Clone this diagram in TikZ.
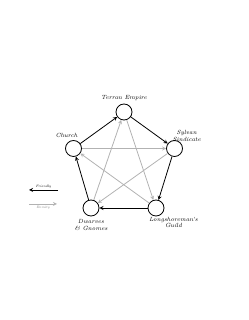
\documentclass[tikz,border=0pt]{standalone}
\usepackage{tikz}
\usetikzlibrary{arrows,positioning}

\tikzset{
  faction/.style={draw, circle, thick, minimum size=16pt, inner sep=0pt},
  tag/.style={font=\fontsize{6}{6.5}\selectfont\itshape, align=center, inner sep=1pt},
  friendly/.style={-stealth, thick, black},
  enmity/.style={-stealth, thick, gray!60},
}

\begin{document}
\begin{tikzpicture}[x=1pt, y=1pt]
  \useasboundingbox (0,0) rectangle (248,320);
  % factions
  \node[faction] (terran) at (124, 208) {};
  \node[faction] (sylvan) at (174.5, 171.5) {};
  \node[faction] (church) at (73.5, 171.5) {};
  \node[faction] (guild) at (156, 112) {};
  \node[faction] (dwarves) at (91, 112) {};

  \node[tag, above=2pt of terran] {Terran Empire};
  \node[tag, above right=0pt and -9pt of sylvan] {Sylvan\\Sindicate};
  \node[tag, above=1pt of church, xshift=-7pt] {Church};
  \node[tag, below=2pt of dwarves] {Dwarves\\\& Gnomes};
  \node[tag, below right=2pt and -14pt of guild] {Longshoreman's\\Guild};

  % friendly ring
  \draw[friendly] (church) -- (terran);
  \draw[friendly] (terran) -- (sylvan);
  \draw[friendly] (sylvan) -- (guild);
  \draw[friendly] (guild) -- (dwarves);
  \draw[friendly] (dwarves) -- (church);

  % enmity star
  \draw[enmity] (terran) -- (guild);
  \draw[enmity] (guild) -- (church);
  \draw[enmity] (church) -- (sylvan);
  \draw[enmity] (sylvan) -- (dwarves);
  \draw[enmity] (dwarves) -- (terran);

  % legend
  \coordinate (fr1) at (58, 130);
  \coordinate (fr0) at (29, 130);
  \coordinate (en0) at (29, 116);
  \coordinate (en1) at (57, 116);
  \draw[friendly] (fr1) -- node[above, font=\fontsize{3.5}{4}\selectfont\itshape, inner sep=1.5pt] {Friendly} (fr0);
  \draw[enmity] (en0) -- node[below, font=\fontsize{3.5}{4}\selectfont\itshape, text=gray, inner sep=1.5pt] {Enmity} (en1);
\end{tikzpicture}
\end{document}
